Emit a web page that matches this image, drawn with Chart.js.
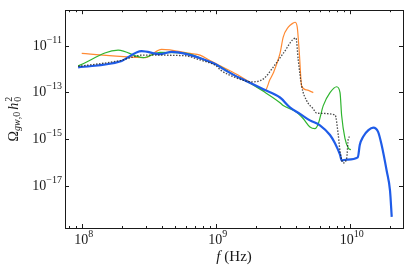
<!DOCTYPE html>
<html>
<head>
<meta charset="utf-8">
<script src="https://cdn.jsdelivr.net/npm/chart.js@4/dist/chart.umd.min.js"></script>
<style>
  html, body { margin: 0; padding: 0; background: #fff; }
</style>
</head>
<body>
<canvas id="chart" width="411" height="272"></canvas>
<script>
// values: frequency f (Hz) and Omega_gw,0 h0^2
const orangeF = [1.0e8, 2.97e8, 3.95e8, 6.43e8, 7.64e8, 9.06e8, 1.08e9, 1.52e9, 1.91e9, 2.27e9, 2.33e9, 2.54e9, 2.69e9, 3.02e9, 3.19e9, 3.48e9, 3.79e9, 3.91e9, 4.06e9, 4.21e9, 4.38e9, 4.77e9, 5.35e9];
const orangeY = [4.6e-12, 3.05e-12, 6.8e-12, 4.6e-12, 3.9e-12, 2.28e-12, 1.35e-12, 4.9e-13, 2.17e-13, 1.21e-13, 1.15e-13, 3.5e-13, 6.7e-13, 4.6e-12, 2.3e-11, 6.1e-11, 9.2e-11, 9.9e-11, 6.1e-11, 4.6e-12, 1.85e-13, 1.26e-13, 9.7e-14];

const greenF = [9.4e7, 1.87e8, 2.88e8, 3.84e8, 6.08e8, 8.08e8, 1.02e9, 1.35e9, 1.70e9, 2.27e9, 3.02e9, 3.19e9, 4.02e9, 4.51e9, 5.05e9, 5.50e9, 5.83e9, 6.35e9, 7.13e9, 8.00e9, 8.47e9, 8.71e9, 9.22e9, 9.77e9, 1.02e10];
const greenY = [1.35e-12, 6.4e-12, 3.05e-12, 5.1e-12, 4.6e-12, 2.59e-12, 1.49e-12, 5.8e-13, 3.0e-13, 1.1e-13, 3.6e-14, 2.7e-14, 1.41e-14, 7.4e-15, 3.3e-15, 2.8e-15, 4.55e-15, 2.7e-14, 9.7e-14, 1.73e-13, 9.7e-14, 1.02e-14, 1.07e-15, 4.1e-16, 3.5e-16];

const blueF = [9.4e7, 1.93e8, 2.80e8, 3.84e8, 4.70e8, 6.08e8, 8.08e8, 1.02e9, 1.08e9, 1.35e9, 1.70e9, 2.27e9, 3.02e9, 3.58e9, 4.26e9, 5.05e9, 6.00e9, 7.13e9, 7.77e9, 8.47e9, 8.71e9, 9.50e9, 1.15e10, 1.19e10, 1.26e10, 1.38e10, 1.50e10, 1.63e10, 1.73e10, 1.89e10, 2.00e10, 2.06e10];
const blueY = [1.16e-12, 2.07e-12, 5.8e-12, 4.3e-12, 5.4e-12, 4.3e-12, 2.59e-12, 1.49e-12, 1.20e-12, 5.7e-13, 3.0e-13, 1.34e-13, 6.0e-14, 2.28e-14, 1.20e-14, 6.3e-15, 3.9e-15, 1.49e-15, 6.6e-16, 2.15e-16, 1.21e-16, 1.33e-16, 1.66e-16, 5.7e-16, 1.26e-15, 2.4e-15, 3.1e-15, 2.04e-15, 5.7e-16, 4.3e-17, 6.2e-18, 4.7e-19];

const dottedF = [9.4e7, 1.93e8, 2.57e8, 2.80e8, 5.73e8, 7.64e8, 1.02e9, 1.08e9, 1.43e9, 1.70e9, 1.86e9, 2.27e9, 2.69e9, 3.19e9, 3.97e9, 4.13e9, 4.38e9, 4.77e9, 5.35e9, 5.67e9, 7.77e9, 8.22e9, 8.47e9, 8.96e9, 9.50e9, 9.77e9, 1.0e10];
const dottedY = [1.28e-12, 2.28e-12, 3.56e-12, 3.9e-12, 3.7e-12, 2.42e-12, 1.28e-12, 9.2e-13, 4.1e-13, 3.0e-13, 2.8e-13, 3.75e-13, 1.2e-12, 4.6e-12, 2.1e-11, 2.42e-12, 1.85e-13, 4.4e-14, 1.94e-14, 1.28e-14, 1.09e-14, 1.49e-15, 3.0e-16, 9.6e-17, 1.55e-16, 1.07e-15, 1.26e-15];

const xMajorTicks = [1e8, 1e9, 1e10];
const xMinorTicks = [8e7, 9e7, 2e8, 3e8, 4e8, 5e8, 6e8, 7e8, 8e8, 9e8, 2e9, 3e9, 4e9, 5e9, 6e9, 7e9, 8e9, 9e9, 2e10];
const yMajorTicks = [1e-17, 1e-15, 1e-13, 1e-11];
const xRange = [7.5e7, 2.5e10];
const yRange = [1.58e-19, 3.24e-10];

const SERIF = '"Liberation Serif", "DejaVu Serif", serif';
const INK = '#1a1a1a';

function pts(fs, ys) {
    return fs.map((f, i) => ({ x: f, y: ys[i] }));
}

function expOf(v) {
    return String(Math.round(Math.log10(v))).replace('-', '\u2212');
}

// "10" with a raised exponent, as text pieces
function powPieces(v) {
    return [
        { t: '10', font: '14px ' + SERIF },
        { t: expOf(v), font: '10px ' + SERIF, dy: -6 }
    ];
}

function measure(ctx, pieces) {
    let total = 0;
    pieces.forEach(p => {
        ctx.font = p.font;
        p.w = ctx.measureText(p.t).width;
        if (!p.stack) total += p.w + (p.gap || 0);
    });
    return total;
}

// draw a run of text pieces (with sub/superscripts) starting at x0
function drawRun(ctx, pieces, x0, y0) {
    let x = x0, lastX = x0;
    pieces.forEach(p => {
        ctx.font = p.font;
        ctx.fillText(p.t, p.stack ? lastX : x, y0 + (p.dy || 0));
        if (!p.stack) {
            lastX = x;
            x += p.w + (p.gap || 0);
        }
    });
}

const frameAndTicks = {
    id: 'frameAndTicks',
    afterDatasetsDraw(chart) {
        const { ctx, chartArea: a, scales: { x, y } } = chart;
        ctx.save();
        ctx.strokeStyle = INK;
        ctx.lineWidth = 1;
        ctx.beginPath();
        xMajorTicks.concat(xMinorTicks).forEach(v => {
            const len = xMajorTicks.includes(v) ? 4 : 2;
            const px = Math.round(x.getPixelForValue(v)) + 0.5;
            ctx.moveTo(px, a.bottom); ctx.lineTo(px, a.bottom - len);
            ctx.moveTo(px, a.top); ctx.lineTo(px, a.top + len);
        });
        yMajorTicks.forEach(v => {
            const py = Math.round(y.getPixelForValue(v)) + 0.5;
            ctx.moveTo(a.left, py); ctx.lineTo(a.left + 4, py);
            ctx.moveTo(a.right, py); ctx.lineTo(a.right - 4, py);
        });
        ctx.stroke();
        ctx.strokeRect(Math.round(a.left) + 0.5, Math.round(a.top) + 0.5,
                       Math.round(a.right - a.left), Math.round(a.bottom - a.top));

        ctx.fillStyle = INK;
        ctx.textBaseline = 'middle';
        ctx.textAlign = 'left';

        // tick labels 10^n
        xMajorTicks.forEach(v => {
            const pieces = powPieces(v);
            const w = measure(ctx, pieces);
            drawRun(ctx, pieces, x.getPixelForValue(v) - w / 2 + 2, 240);
        });
        yMajorTicks.forEach(v => {
            const pieces = powPieces(v);
            const w = measure(ctx, pieces);
            drawRun(ctx, pieces, a.left - 3 - w, y.getPixelForValue(v) + 0.5);
        });

        // axis titles
        const xt = [
            { t: 'f', font: 'italic 15px ' + SERIF, gap: 4 },
            { t: '(Hz)', font: '15px ' + SERIF }
        ];
        drawRun(ctx, xt, (a.left + a.right) / 2 - measure(ctx, xt) / 2, 257);

        const yt = [
            { t: '\u03A9', font: '14px ' + SERIF },
            { t: 'gw', font: 'italic 10px ' + SERIF, dy: 3 },
            { t: ',0', font: '10px ' + SERIF, dy: 3, gap: 2 },
            { t: 'h', font: 'italic 14px ' + SERIF, gap: 1 },
            { t: '0', font: '10px ' + SERIF, dy: 4 },
            { t: '2', font: '10px ' + SERIF, dy: -5, stack: true }
        ];
        ctx.translate(14, (a.top + a.bottom) / 2);
        ctx.rotate(-Math.PI / 2);
        drawRun(ctx, yt, -measure(ctx, yt) / 2, 0);
        ctx.restore();
    }
};

new Chart(document.getElementById('chart'), {
    type: 'scatter',
    data: {
        datasets: [
            { label: 'dotted', data: pts(dottedF, dottedY), borderColor: 'rgba(30,30,30,0.8)',
              borderWidth: 1.3, borderDash: [1.5, 1.5], order: 0 },
            { label: 'blue', data: pts(blueF, blueY), borderColor: '#1f5ce8', borderWidth: 2.2, order: 1 },
            { label: 'green', data: pts(greenF, greenY), borderColor: '#2fb52f', borderWidth: 1.2, order: 2 },
            { label: 'orange', data: pts(orangeF, orangeY), borderColor: '#ff8a33', borderWidth: 1.2, order: 3 }
        ].map(d => Object.assign(d, { showLine: true, pointRadius: 0, cubicInterpolationMode: 'monotone' }))
    },
    options: {
        responsive: false,
        animation: false,
        layout: { padding: { top: 6, right: 8, left: 0, bottom: 0 } },
        plugins: { legend: { display: false }, tooltip: { enabled: false } },
        scales: {
            x: {
                type: 'logarithmic',
                min: xRange[0],
                max: xRange[1],
                grid: { display: false },
                border: { display: false },
                afterBuildTicks: s => {
                    s.ticks = xMajorTicks.concat(xMinorTicks).sort((p, q) => p - q).map(v => ({ value: v }));
                },
                afterFit: s => { s.height = 44; },
                ticks: { autoSkip: false, maxRotation: 0, callback: () => '' }
            },
            y: {
                type: 'logarithmic',
                min: yRange[0],
                max: yRange[1],
                grid: { display: false },
                border: { display: false },
                afterBuildTicks: s => {
                    s.ticks = yMajorTicks.map(v => ({ value: v }));
                },
                afterFit: s => { s.width = 65; },
                ticks: { autoSkip: false, callback: () => '' }
            }
        }
    },
    plugins: [frameAndTicks]
});
</script>
</body>
</html>
